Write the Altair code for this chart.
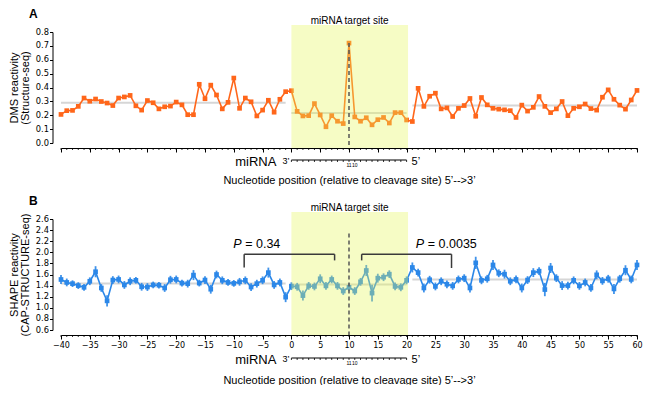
import altair as alt
import pandas as pd

# ---------------- data ----------------
positions = list(range(-40, 61))

dms_reactivity = [0.206, 0.233, 0.235, 0.264, 0.324, 0.301, 0.317, 0.299, 0.288, 0.270,
                  0.324, 0.332, 0.343, 0.268, 0.237, 0.306, 0.290, 0.246, 0.261, 0.266,
                  0.295, 0.275, 0.204, 0.204, 0.423, 0.319, 0.417, 0.346, 0.246, 0.293,
                  0.468, 0.250, 0.324, 0.297, 0.195, 0.237, 0.308, 0.222, 0.315, 0.370,
                  0.377,
                  0.228, 0.195, 0.197, 0.284, 0.202, 0.117, 0.197, 0.157, 0.140, 0.720,
                  0.188, 0.157, 0.182, 0.131, 0.168, 0.184, 0.144, 0.219, 0.219, 0.166,
                  0.155, 0.394, 0.264, 0.337, 0.359, 0.246, 0.253, 0.191, 0.250, 0.270,
                  0.321, 0.193, 0.328, 0.275, 0.250, 0.244, 0.239, 0.233, 0.184, 0.273,
                  0.230, 0.257, 0.335, 0.264, 0.219, 0.246, 0.299, 0.197, 0.250, 0.261,
                  0.281, 0.248, 0.237, 0.330, 0.383, 0.315, 0.273, 0.244, 0.310, 0.379]

shape_reactivity = [1.510, 1.457, 1.435, 1.400, 1.369, 1.478, 1.650, 1.357, 1.125, 1.500,
                    1.511, 1.412, 1.478, 1.495, 1.379, 1.374, 1.412, 1.407, 1.357, 1.506,
                    1.511, 1.445, 1.435, 1.589, 1.445, 1.500, 1.335, 1.600, 1.495, 1.457,
                    1.440, 1.468, 1.495, 1.374, 1.435, 1.495, 1.634, 1.412, 1.457, 1.192,
                    1.390, 1.379, 1.220, 1.395, 1.385, 1.523, 1.395, 1.511, 1.395, 1.302,
                    1.369, 1.302, 1.468, 1.672, 1.265, 1.534, 1.551, 1.606, 1.385, 1.369,
                    1.495, 1.727, 1.634, 1.357, 1.506, 1.385, 1.478, 1.424, 1.395, 1.511,
                    1.534, 1.357, 1.810, 1.495, 1.523, 1.772, 1.622, 1.606, 1.478, 1.511,
                    1.357, 1.500, 1.634, 1.660, 1.329, 1.717, 1.534, 1.400, 1.400, 1.495,
                    1.395, 1.457, 1.357, 1.594, 1.485, 1.523, 1.340, 1.523, 1.677, 1.511,
                    1.772]

shape_error = [0.08, 0.07, 0.06, 0.06, 0.06, 0.07, 0.10, 0.07, 0.10, 0.07,
               0.07, 0.07, 0.07, 0.06, 0.07, 0.07, 0.06, 0.06, 0.07, 0.07,
               0.07, 0.06, 0.07, 0.09, 0.06, 0.07, 0.08, 0.07, 0.07, 0.06,
               0.06, 0.07, 0.07, 0.07, 0.07, 0.07, 0.09, 0.07, 0.07, 0.09,
               0.07, 0.07, 0.09, 0.07, 0.07, 0.08, 0.07, 0.07, 0.07, 0.07,
               0.07, 0.07, 0.07, 0.10, 0.15, 0.08, 0.07, 0.07, 0.07, 0.07,
               0.07, 0.09, 0.07, 0.08, 0.07, 0.07, 0.07, 0.07, 0.07, 0.07,
               0.07, 0.08, 0.11, 0.07, 0.07, 0.09, 0.07, 0.08, 0.07, 0.07,
               0.08, 0.07, 0.08, 0.07, 0.12, 0.09, 0.07, 0.08, 0.07, 0.07,
               0.07, 0.07, 0.07, 0.08, 0.07, 0.07, 0.09, 0.07, 0.09, 0.07,
               0.09]

mean_start = [-40, 0, 21]
mean_end = [-1, 20, 60]
dms_means = [0.29, 0.217, 0.27]
shape_means = [1.44, 1.42, 1.51]

site_start = [0]
site_end = [20.25]
site_center = [10.1]
site_label = ["miRNA target site"]
cleavage_pos = [10]
dms_dash_top = [0.72]
shape_dash_top = [2.34]

dms_ticks = [0.0, 0.1, 0.2, 0.3, 0.4, 0.5, 0.6, 0.7, 0.8]
shape_ticks = [0.6, 0.8, 1.0, 1.2, 1.4, 1.6, 1.8, 2.0, 2.2, 2.4, 2.6]
x_major_ticks = list(range(-40, 61, 5))

mirna_positions = list(range(0, 21))
mirna_numbers = ["11", "10"]
mirna_number_pos = [10, 11]

bracket_left = [-8.2, 12.2]
bracket_right = [7.5, 27.8]
bracket_level = [1.965, 1.965]
bracket_left_drop = [1.727, 1.854]
bracket_right_drop = [1.854, 1.717]
p_values = ["= 0.34", "= 0.0035"]
p_start = [-10.1, 21.6]
p_y = [2.07, 2.07]

panel_letters = ["A", "B"]
x_title = "Nucleotide position (relative to cleavage site) 5\u2019-->3\u2019"

# ---------------- styling ----------------
W, H = 576, 111
ORANGE = "#ff661a"
BLUE = "#2b87e8"
SHADE = "#e6f55a"
GREY = "#d6d6d6"
DASH = "#555555"
TXT = "Liberation Sans"
TICKF = "DejaVu Sans"

xs = alt.Scale(domain=[-40, 60], nice=False, zero=False)


def x_axis(show_labels, title_pad):
    return alt.Axis(values=x_major_ticks, labels=show_labels, labelFont=TICKF,
                    labelFontSize=8, labelColor="black", labelPadding=2,
                    labelFlush=False, labelOverlap=False,
                    tickSize=4, tickColor="black", tickWidth=1,
                    domainColor="black", domainWidth=1, offset=5, grid=False,
                    title=x_title, titleFont=TXT, titleFontSize=11,
                    titleFontWeight="normal", titleColor="black",
                    titlePadding=title_pad)


def panel(vals, color, ydom, yticks, ytitle, means, dash_top, letter,
          ruler_off, show_labels, title_pad, err=None, brackets=False):
    ys = alt.Scale(domain=ydom, nice=False, zero=False)
    xaxis = x_axis(show_labels, title_pad)
    yaxis = alt.Axis(values=yticks, format=".1f", offset=8.5, tickSize=3,
                     tickColor="black", domainColor="black", labelFont=TICKF,
                     labelFontSize=8.3, labelColor="black", labelPadding=1,
                     labelFlush=False, labelOverlap=False, grid=False,
                     title=ytitle, titleFont=TXT, titleFontSize=11,
                     titleFontWeight="normal", titleColor="black",
                     titlePadding=5, titleLineHeight=10.5)

    def X(field):
        return alt.X(field, type="quantitative", scale=xs, axis=xaxis)

    def Y(field):
        return alt.Y(field, type="quantitative", scale=ys, axis=yaxis)

    df = pd.DataFrame({"pos": positions, "val": vals})
    layers = []
    mdf = pd.DataFrame({"s": mean_start, "e": mean_end, "m": means})
    layers.append(alt.Chart(mdf).mark_rule(color=GREY, strokeWidth=2).encode(
        x=X("s"), x2="e", y=Y("m")))
    layers.append(alt.Chart(df).mark_line(color=color, strokeWidth=1.6).encode(
        x=X("pos"), y=Y("val")))
    if err is not None:
        edf = pd.DataFrame({"pos": positions,
                            "lo": [v - e for v, e in zip(vals, err)],
                            "hi": [v + e for v, e in zip(vals, err)]})
        layers.append(alt.Chart(edf).mark_rule(color=color, strokeWidth=1.8,
                                               opacity=0.9).encode(
            x=X("pos"), y=Y("lo"), y2="hi"))
    layers.append(alt.Chart(df).mark_square(color=color, size=22, opacity=1).encode(
        x=X("pos"), y=Y("val")))

    sdf = pd.DataFrame({"s": site_start, "e": site_end})
    layers.append(alt.Chart(sdf).mark_rect(color=SHADE, opacity=0.35).encode(
        x=X("s"), x2="e", y=alt.value(-7), y2=alt.value(H + 5)))

    tdf = pd.DataFrame({"pos": site_center, "t": site_label})
    layers.append(alt.Chart(tdf).mark_text(font=TXT, fontSize=10, color="black",
                                           baseline="alphabetic").encode(
        x=X("pos"), y=alt.value(-8.5), text="t:N"))

    pdf_ = pd.DataFrame({"pos": positions})
    layers.append(alt.Chart(pdf_).mark_rule(color="black", strokeWidth=0.8).encode(
        x=X("pos"), y=alt.value(H + 5), y2=alt.value(H + 7)))

    ddf = pd.DataFrame({"pos": cleavage_pos, "top": dash_top})
    layers.append(alt.Chart(ddf).mark_rule(color=DASH, strokeWidth=1.5,
                                           strokeDash=[4, 3]).encode(
        x=X("pos"), y=Y("top"), y2=alt.value(H + 5)))

    r = H + ruler_off
    rdf = pd.DataFrame({"s": [mirna_positions[0]], "e": [mirna_positions[-1]]})
    layers.append(alt.Chart(rdf).mark_rule(color="black", strokeWidth=1.2).encode(
        x=X("s"), x2="e", y=alt.value(r)))
    rtdf = pd.DataFrame({"pos": mirna_positions})
    layers.append(alt.Chart(rtdf).mark_rule(color="black", strokeWidth=0.8).encode(
        x=X("pos"), y=alt.value(r), y2=alt.value(r + 2)))

    ldf = pd.DataFrame({"pos": [mirna_positions[0]], "t": ["miRNA"]})
    layers.append(alt.Chart(ldf).mark_text(font=TXT, fontSize=13, align="right",
                                           baseline="middle", dx=-15,
                                           color="black").encode(
        x=X("pos"), y=alt.value(r + 2), text="t:N"))
    l3 = pd.DataFrame({"pos": [mirna_positions[0]], "t": ["3\u2019"]})
    layers.append(alt.Chart(l3).mark_text(font=TXT, fontSize=9, align="right",
                                          baseline="middle", dx=-2,
                                          color="black").encode(
        x=X("pos"), y=alt.value(r + 1), text="t:N"))
    l5 = pd.DataFrame({"pos": [mirna_positions[-1]], "t": ["5\u2019"]})
    layers.append(alt.Chart(l5).mark_text(font=TXT, fontSize=11, align="left",
                                          baseline="middle", dx=5,
                                          color="black").encode(
        x=X("pos"), y=alt.value(r + 2), text="t:N"))
    ndf = pd.DataFrame({"pos": mirna_number_pos, "t": mirna_numbers})
    layers.append(alt.Chart(ndf).mark_text(font=TXT, fontSize=5, align="center",
                                           baseline="middle",
                                           color="black").encode(
        x=X("pos"), y=alt.value(r + 5), text="t:N"))

    adf = pd.DataFrame({"t": [letter]})
    layers.append(alt.Chart(adf).mark_text(font=TXT, fontSize=12, fontWeight="bold",
                                           align="left", baseline="alphabetic",
                                           color="black").encode(
        x=alt.value(-32), y=alt.value(-14), text="t:N"))

    if brackets:
        bdf = pd.DataFrame({"l": bracket_left, "r": bracket_right,
                            "lev": bracket_level, "ld": bracket_left_drop,
                            "rd": bracket_right_drop})
        bc = "#3a3a3a"
        layers.append(alt.Chart(bdf).mark_rule(color=bc, strokeWidth=1.5).encode(
            x=X("l"), x2="r", y=Y("lev")))
        layers.append(alt.Chart(bdf).mark_rule(color=bc, strokeWidth=1.5).encode(
            x=X("l"), y=Y("lev"), y2="ld"))
        layers.append(alt.Chart(bdf).mark_rule(color=bc, strokeWidth=1.5).encode(
            x=X("r"), y=Y("lev"), y2="rd"))
        pvdf = pd.DataFrame({"x": p_start, "y": p_y, "t": p_values})
        layers.append(alt.Chart(pvdf).mark_text(text="P", font=TXT, fontSize=12.5,
                                                fontStyle="italic", align="left",
                                                baseline="alphabetic",
                                                color="black").encode(
            x=X("x"), y=Y("y")))
        layers.append(alt.Chart(pvdf).mark_text(font=TXT, fontSize=12.5,
                                                align="left", dx=12,
                                                baseline="alphabetic",
                                                color="black").encode(
            x=X("x"), y=Y("y"), text="t:N"))

    return alt.layer(*layers).properties(width=W, height=H)


top = panel(dms_reactivity, ORANGE, [0, 0.8], dms_ticks,
            ["DMS reactivity", "(Structure-seq)"], dms_means, dms_dash_top,
            panel_letters[0], ruler_off=17, show_labels=False, title_pad=22)
bottom = panel(shape_reactivity, BLUE, [0.6, 2.6], shape_ticks,
               ["SHAPE reactivity", "(CAP-STRUCTURE-seq)"], shape_means,
               shape_dash_top, panel_letters[1], ruler_off=28, show_labels=True,
               title_pad=25, err=shape_error, brackets=True)

chart = alt.vconcat(top, bottom, spacing=76, bounds="flush").configure_view(
    stroke=None).properties(padding={"left": 0, "right": 0, "top": 0, "bottom": 0})

chart.save("out.html", embed_options={"renderer": "svg", "actions": False})
